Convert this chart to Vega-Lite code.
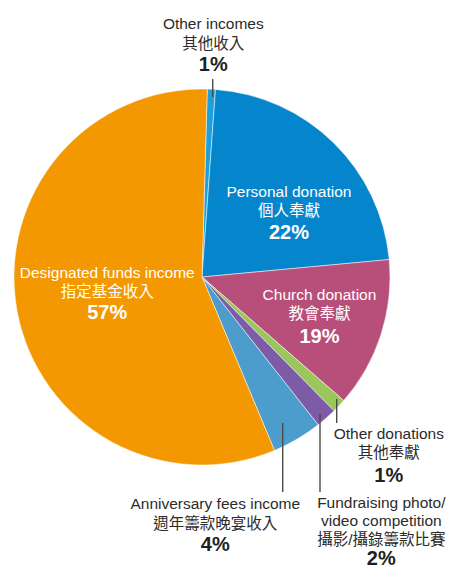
{
  "$schema": "https://vega.github.io/schema/vega-lite/v6.json",
  "width": 404,
  "height": 554,
  "padding": {"left": 0, "top": 0, "right": 45, "bottom": 16},
  "autosize": {"type": "none"},
  "background": "white",
  "config": {"view": {"stroke": null}},
  "data": {"values": [
    {"idx": 1, "cat": "Other incomes", "value": 0.7, "name": "Other incomes\n其他收入", "pct": "1%"},
    {"idx": 2, "cat": "Personal donation", "value": 22.4, "name": "Personal donation\n個人奉獻", "pct": "22%"},
    {"idx": 3, "cat": "Church donation", "value": 12.9, "name": "Church donation\n教會奉獻", "pct": "19%"},
    {"idx": 4, "cat": "Other donations", "value": 1.2, "name": "Other donations\n其他奉獻", "pct": "1%"},
    {"idx": 5, "cat": "Fundraising photo/video competition", "value": 1.8, "name": "Fundraising photo/\nvideo competition\n攝影/攝錄籌款比賽", "pct": "2%"},
    {"idx": 6, "cat": "Anniversary fees income", "value": 4.3, "name": "Anniversary fees income\n週年籌款晚宴收入", "pct": "4%"},
    {"idx": 7, "cat": "Designated funds income", "value": 56.8, "name": "Designated funds income\n指定基金收入", "pct": "57%"}
  ]},
  "layer": [
    {
      "mark": {"type": "arc", "radius": 188, "stroke": "white", "strokeWidth": 0.5},
      "encoding": {
        "theta": {"field": "value", "type": "quantitative", "stack": true, "scale": {"type": "linear", "domain": [0, 100.1], "range": [0.0279, 6.3111]}},
        "color": {"field": "cat", "type": "nominal", "legend": null, "scale": {
          "domain": ["Other incomes", "Personal donation", "Church donation", "Other donations", "Fundraising photo/video competition", "Anniversary fees income", "Designated funds income"],
          "range": ["#1f9fdb", "#0586cc", "#b84e7a", "#9ac65a", "#7d5ba6", "#4c9dcb", "#f39800"]}},
        "order": {"field": "idx", "type": "quantitative"}
      }
    },
    {
      "data": {"values": [{}]},
      "mark": {"type": "rule", "color": "#4a4a4a", "strokeWidth": 1.4},
      "encoding": {"x": {"value": 212.7}, "y": {"value": 79}, "y2": {"value": 97}}
    },
    {
      "data": {"values": [{}]},
      "mark": {"type": "rule", "color": "#4a4a4a", "strokeWidth": 1.4},
      "encoding": {"x": {"value": 336.7}, "y": {"value": 399}, "y2": {"value": 423}}
    },
    {
      "data": {"values": [{}]},
      "mark": {"type": "rule", "color": "#4a4a4a", "strokeWidth": 1.4},
      "encoding": {"x": {"value": 320}, "y": {"value": 414}, "y2": {"value": 492}}
    },
    {
      "data": {"values": [{}]},
      "mark": {"type": "rule", "color": "#4a4a4a", "strokeWidth": 1.4},
      "encoding": {"x": {"value": 282.7}, "y": {"value": 423}, "y2": {"value": 492}}
    },
    {
      "mark": {"type": "text", "radius": 206, "dx": 1, "dy": -42, "align": "center", "baseline": "alphabetic", "lineBreak": "\n", "lineHeight": 19.5, "fontSize": 15.5, "font": "Liberation Sans, Noto Sans CJK TC", "color": "#2b2b2b"},
      "encoding": {"theta": {"field": "value", "type": "quantitative", "stack": true}, "order": {"field": "idx", "type": "quantitative"},
        "text": {"condition": {"test": "datum.idx === 1", "field": "name"}, "value": ""}}
    },
    {
      "mark": {"type": "text", "radius": 206, "dx": 1, "dy": 0, "align": "center", "baseline": "alphabetic", "fontSize": 20, "fontWeight": "bold", "font": "Liberation Sans", "color": "#231f20"},
      "encoding": {"theta": {"field": "value", "type": "quantitative", "stack": true}, "order": {"field": "idx", "type": "quantitative"},
        "text": {"condition": {"test": "datum.idx === 1", "field": "pct"}, "value": ""}}
    },
    {
      "mark": {"type": "text", "radius": 110, "dx": 10, "dy": -1.7, "align": "center", "baseline": "alphabetic", "lineBreak": "\n", "lineHeight": 19.5, "fontSize": 15.5, "font": "Liberation Sans, Noto Sans CJK TC", "color": "white"},
      "encoding": {"theta": {"field": "value", "type": "quantitative", "stack": true}, "order": {"field": "idx", "type": "quantitative"},
        "text": {"condition": {"test": "datum.idx === 2", "field": "name"}, "value": ""}}
    },
    {
      "mark": {"type": "text", "radius": 110, "dx": 10, "dy": 40.6, "align": "center", "baseline": "alphabetic", "fontSize": 20, "fontWeight": "bold", "font": "Liberation Sans", "color": "white"},
      "encoding": {"theta": {"field": "value", "type": "quantitative", "stack": true}, "order": {"field": "idx", "type": "quantitative"},
        "text": {"condition": {"test": "datum.idx === 2", "field": "pct"}, "value": ""}}
    },
    {
      "mark": {"type": "text", "radius": 125, "dx": -1.5, "dy": -15.4, "align": "center", "baseline": "alphabetic", "lineBreak": "\n", "lineHeight": 19.5, "fontSize": 15.5, "font": "Liberation Sans, Noto Sans CJK TC", "color": "white"},
      "encoding": {"theta": {"field": "value", "type": "quantitative", "stack": true}, "order": {"field": "idx", "type": "quantitative"},
        "text": {"condition": {"test": "datum.idx === 3", "field": "name"}, "value": ""}}
    },
    {
      "mark": {"type": "text", "radius": 125, "dx": -1.5, "dy": 27.3, "align": "center", "baseline": "alphabetic", "fontSize": 20, "fontWeight": "bold", "font": "Liberation Sans", "color": "white"},
      "encoding": {"theta": {"field": "value", "type": "quantitative", "stack": true}, "order": {"field": "idx", "type": "quantitative"},
        "text": {"condition": {"test": "datum.idx === 3", "field": "pct"}, "value": ""}}
    },
    {
      "mark": {"type": "text", "radius": 210, "dx": 33.8, "dy": 18.1, "align": "center", "baseline": "alphabetic", "lineBreak": "\n", "lineHeight": 19.5, "fontSize": 15.5, "font": "Liberation Sans, Noto Sans CJK TC", "color": "#2b2b2b"},
      "encoding": {"theta": {"field": "value", "type": "quantitative", "stack": true}, "order": {"field": "idx", "type": "quantitative"},
        "text": {"condition": {"test": "datum.idx === 4", "field": "name"}, "value": ""}}
    },
    {
      "mark": {"type": "text", "radius": 210, "dx": 33.8, "dy": 60.8, "align": "center", "baseline": "alphabetic", "fontSize": 20, "fontWeight": "bold", "font": "Liberation Sans", "color": "#231f20"},
      "encoding": {"theta": {"field": "value", "type": "quantitative", "stack": true}, "order": {"field": "idx", "type": "quantitative"},
        "text": {"condition": {"test": "datum.idx === 4", "field": "pct"}, "value": ""}}
    },
    {
      "mark": {"type": "text", "radius": 210, "dx": 40.5, "dy": 73.2, "align": "center", "baseline": "alphabetic", "lineBreak": "\n", "lineHeight": 18.5, "fontSize": 15.5, "font": "Liberation Sans, Noto Sans CJK TC", "color": "#2b2b2b"},
      "encoding": {"theta": {"field": "value", "type": "quantitative", "stack": true}, "order": {"field": "idx", "type": "quantitative"},
        "text": {"condition": {"test": "datum.idx === 5", "field": "name"}, "value": ""}}
    },
    {
      "mark": {"type": "text", "radius": 210, "dx": 40.5, "dy": 130.9, "align": "center", "baseline": "alphabetic", "fontSize": 20, "fontWeight": "bold", "font": "Liberation Sans", "color": "#231f20"},
      "encoding": {"theta": {"field": "value", "type": "quantitative", "stack": true}, "order": {"field": "idx", "type": "quantitative"},
        "text": {"condition": {"test": "datum.idx === 5", "field": "pct"}, "value": ""}}
    },
    {
      "mark": {"type": "text", "radius": 210, "dx": -93, "dy": 51.2, "align": "center", "baseline": "alphabetic", "lineBreak": "\n", "lineHeight": 19.5, "fontSize": 15.5, "font": "Liberation Sans, Noto Sans CJK TC", "color": "#2b2b2b"},
      "encoding": {"theta": {"field": "value", "type": "quantitative", "stack": true}, "order": {"field": "idx", "type": "quantitative"},
        "text": {"condition": {"test": "datum.idx === 6", "field": "name"}, "value": ""}}
    },
    {
      "mark": {"type": "text", "radius": 210, "dx": -93, "dy": 92.6, "align": "center", "baseline": "alphabetic", "fontSize": 20, "fontWeight": "bold", "font": "Liberation Sans", "color": "#231f20"},
      "encoding": {"theta": {"field": "value", "type": "quantitative", "stack": true}, "order": {"field": "idx", "type": "quantitative"},
        "text": {"condition": {"test": "datum.idx === 6", "field": "pct"}, "value": ""}}
    },
    {
      "mark": {"type": "text", "radius": 96, "dx": -0.4, "dy": -16.9, "align": "center", "baseline": "alphabetic", "lineBreak": "\n", "lineHeight": 19.5, "fontSize": 15.5, "font": "Liberation Sans, Noto Sans CJK TC", "color": "white"},
      "encoding": {"theta": {"field": "value", "type": "quantitative", "stack": true}, "order": {"field": "idx", "type": "quantitative"},
        "text": {"condition": {"test": "datum.idx === 7", "field": "name"}, "value": ""}}
    },
    {
      "mark": {"type": "text", "radius": 96, "dx": -0.4, "dy": 24.7, "align": "center", "baseline": "alphabetic", "fontSize": 20, "fontWeight": "bold", "font": "Liberation Sans", "color": "white"},
      "encoding": {"theta": {"field": "value", "type": "quantitative", "stack": true}, "order": {"field": "idx", "type": "quantitative"},
        "text": {"condition": {"test": "datum.idx === 7", "field": "pct"}, "value": ""}}
    }
  ]
}
